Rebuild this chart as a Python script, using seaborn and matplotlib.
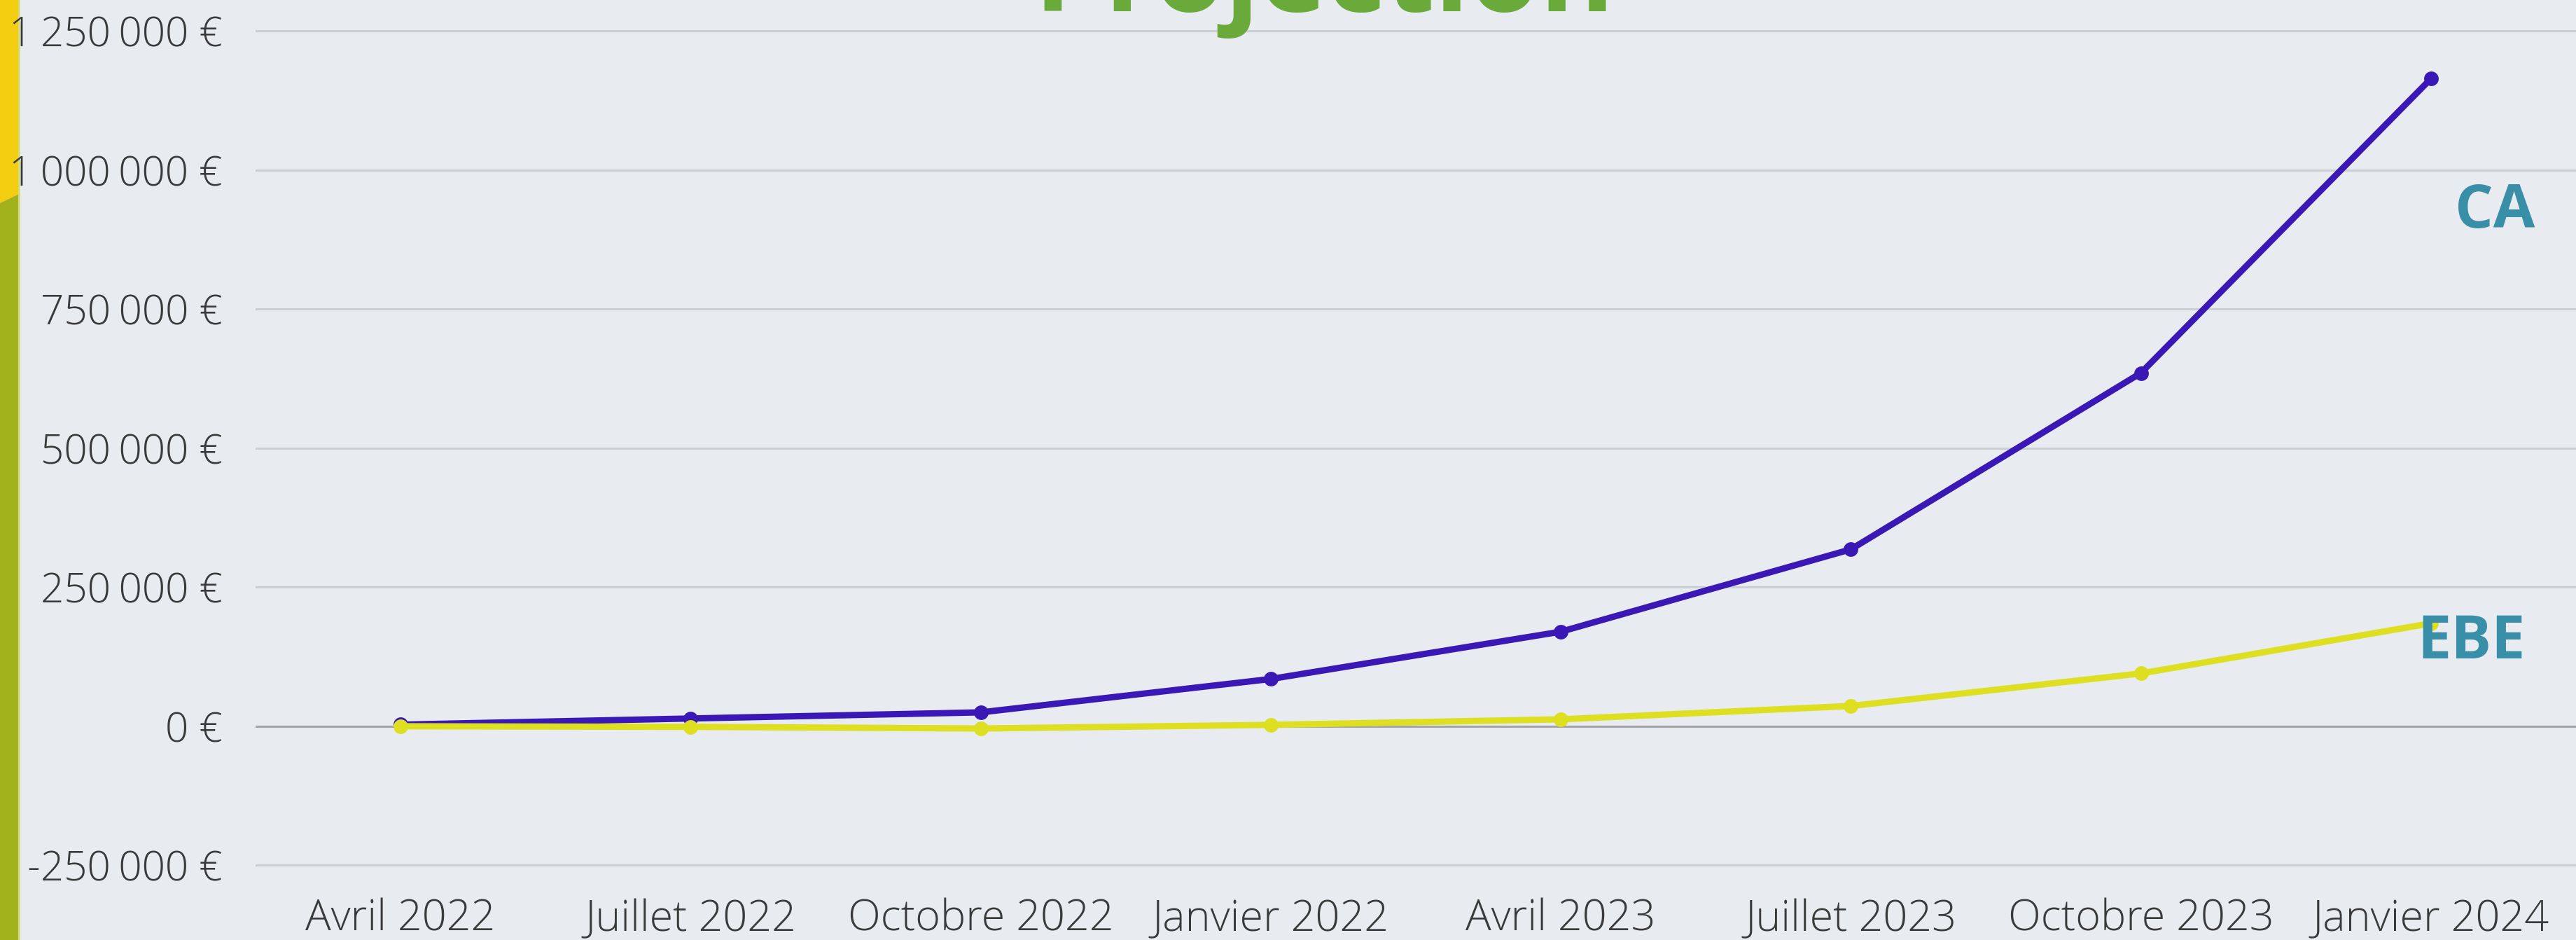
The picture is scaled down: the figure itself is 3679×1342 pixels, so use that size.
import pandas as pd
import seaborn as sns
import matplotlib.pyplot as plt
from matplotlib.patches import Polygon
from matplotlib.ticker import FuncFormatter

# data
mois = ["Avril 2022", "Juillet 2022", "Octobre 2022", "Janvier 2022",
        "Avril 2023", "Juillet 2023", "Octobre 2023", "Janvier 2024"]
ca = [3000, 14000, 25000, 85000, 170000, 318000, 635000, 1164000]
ebe = [0, -1000, -4000, 2500, 12500, 36500, 95000, 185000]
y_ticks = [-250000, 0, 250000, 500000, 750000, 1000000, 1250000]

df = pd.concat([
    pd.DataFrame({"mois": mois, "valeur": ca, "serie": "CA"}),
    pd.DataFrame({"mois": mois, "valeur": ebe, "serie": "EBE"}),
], ignore_index=True)

sns.set_theme(style="white")
plt.rcParams["font.family"] = ["Open Sans", "DejaVu Sans"]

W, H = 3679, 1342
bg = "#e8ebf0"
fig = plt.figure(figsize=(W / 100, H / 100), dpi=100, facecolor=bg)
ax = fig.add_axes([365 / W, 0.0723, 1 - 365 / W, 0.902])
ax.set_facecolor(bg)

sns.lineplot(data=df, x="mois", y="valeur", hue="serie", hue_order=["CA", "EBE"],
             palette={"CA": "#3918b5", "EBE": "#dedf20"}, sort=False,
             marker="o", markersize=15, markeredgewidth=0, linewidth=6.5,
             legend=False, ax=ax, zorder=3)

ax.set_xlim(-0.5, 7.5)
ax.set_ylim(-262000, 1262000)
ax.set_yticks(y_ticks)
ax.yaxis.set_major_formatter(FuncFormatter(
    lambda v, p: "{:,.0f}".format(v).replace(",", "\u2009") + " €"))
ax.grid(axis="y", color="#cbced3", linewidth=2.2)
ax.grid(axis="x", visible=False)
ax.axhline(0, color="#a4a5a8", linewidth=2.2, zorder=1)
ax.set_xlabel("")
ax.set_ylabel("")
for s in ax.spines.values():
    s.set_visible(False)
ax.tick_params(axis="y", length=0, pad=34, labelsize=42, labelcolor="#3a3a3a")
ax.tick_params(axis="x", length=0, pad=27, labelsize=44, labelcolor="#3a3a3a")
for lab in ax.get_xticklabels() + ax.get_yticklabels():
    lab.set_fontweight("light")

# series labels at the right
ax.text(7.22, 925000, "CA", color="#3a8fa8", fontsize=62, fontweight="bold",
        ha="center", va="center")
ax.text(7.14, 150000, "EBE", color="#3a8fa8", fontsize=62, fontweight="bold",
        ha="center", va="center")

# title, mostly cut off at the top as in the original
fig.text(1891 / W, 1 - 16 / H, "Projection", color="#6aaa3a", fontsize=117,
         fontweight="bold", ha="center", va="baseline")

# coloured band on the left edge, under the tick labels
def fp(x, y):
    return (x / W, 1 - y / H)

band = [
    ([fp(0, 0), fp(27, 0), fp(27, 277), fp(0, 290)], "#f3cd0f"),
    ([fp(0, 290), fp(27, 277), fp(27, H), fp(0, H)], "#a1b21c"),
    ([fp(26, 0), fp(29, 0), fp(29, H), fp(26, H)], "#d4d98a"),
]
for pts, col in band:
    fig.patches.append(Polygon(pts, closed=True, facecolor=col, edgecolor="none",
                               transform=fig.transFigure, figure=fig, zorder=-1))

fig.savefig("out.png", dpi=100, facecolor=bg)
